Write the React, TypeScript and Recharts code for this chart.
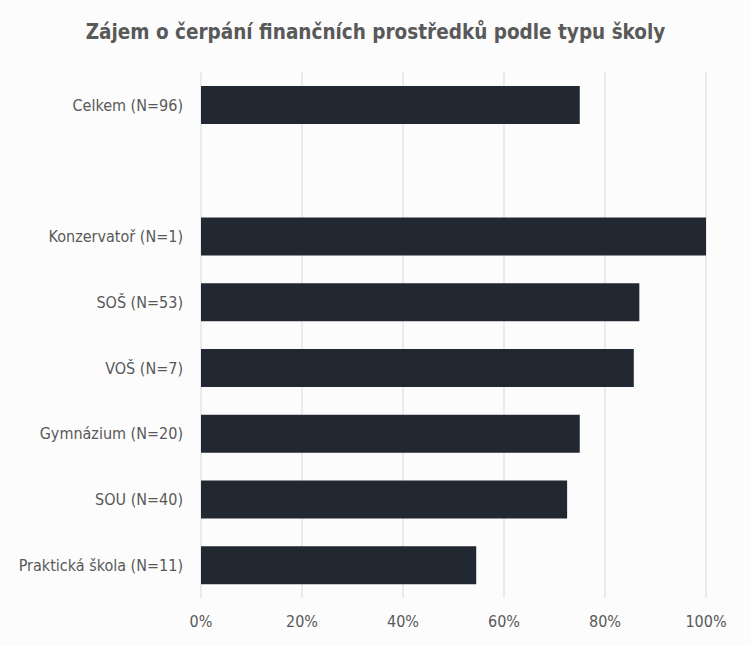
import { BarChart, Bar, XAxis, YAxis, CartesianGrid } from "recharts";

const categories = [
  "Celkem (N=96)",
  "",
  "Konzervatoř (N=1)",
  "SOŠ (N=53)",
  "VOŠ (N=7)",
  "Gymnázium (N=20)",
  "SOU (N=40)",
  "Praktická škola (N=11)",
];
const shares = [0.75, null, 1.0, 0.868, 0.857, 0.75, 0.725, 0.545];
const xTicks = [0, 0.2, 0.4, 0.6, 0.8, 1];

const data = categories.map((name, i) => ({ key: "c" + i, name, value: shares[i] }));

const font = "'Liberation Sans Narrow', 'DejaVu Sans Condensed', sans-serif";
const grey = "#595959";

export default function App() {
  return (
    <div style={{ position: "absolute", left: 0, top: 0, width: 751, height: 646, background: "#fcfcfc", fontFamily: font }}>
      <div style={{ position: "absolute", top: 20, width: 751, textAlign: "center", fontSize: 20.5, fontWeight: "bold", color: grey }}>
        Zájem o čerpání finančních prostředků podle typu školy
      </div>
      <BarChart
        width={751}
        height={646}
        data={data}
        layout="vertical"
        margin={{ top: 72, right: 45, bottom: 0, left: 11 }}
        barCategoryGap={0}
      >
        <CartesianGrid horizontal={false} stroke="#d9d9d9" />
        <XAxis
          type="number"
          domain={[0, 1]}
          ticks={xTicks}
          tickFormatter={(v) => `${Math.round(v * 100)}%`}
          axisLine={false}
          tickLine={false}
          tickMargin={12}
          height={48}
          tick={{ fill: grey, fontSize: 16, fontFamily: font }}
        />
        <YAxis
          type="category"
          dataKey="key"
          width={190}
          tickFormatter={(k, i) => categories[i] ?? ""}
          axisLine={false}
          tickLine={false}
          tickMargin={12}
          interval={0}
          tick={{ fill: grey, fontSize: 16, fontFamily: font }}
        />
        <Bar dataKey="value" fill="#222831" barSize={38} isAnimationActive={false} />
      </BarChart>
    </div>
  );
}
